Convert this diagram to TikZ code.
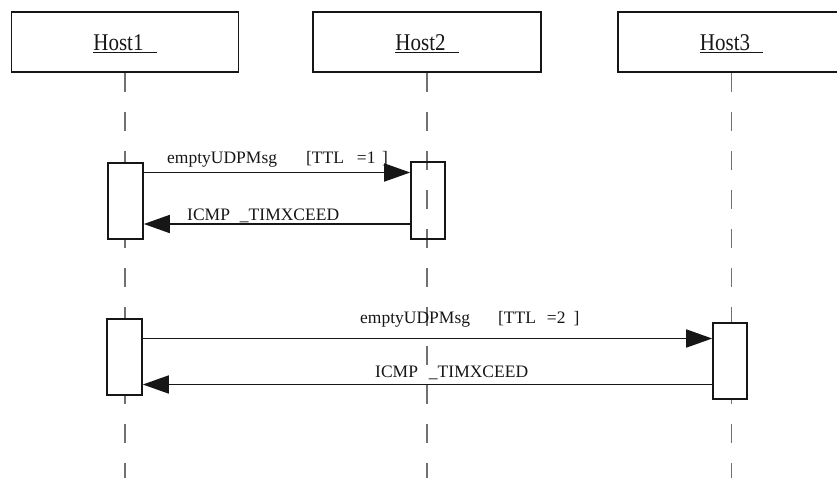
\documentclass[tikz,border=0pt]{standalone}
\usepackage{fontspec}
\setmainfont{Liberation Serif}
\newfontfamily\hostfont[FakeStretch=0.875]{Liberation Serif}
\usetikzlibrary{arrows.meta}
\definecolor{ink}{HTML}{161616}
\definecolor{lifegray}{HTML}{707070}
\begin{document}
\begin{tikzpicture}[x=1pt,y=-1pt,
  hostbox/.style={draw=ink,line width=1.6pt,fill=white,minimum width=227pt,minimum height=60pt,
    inner sep=0pt,text height=17pt,text depth=0pt,font=\hostfont\fontsize{24}{28}\selectfont,text=ink},
  actbox/.style={draw=ink,line width=1.6pt,minimum width=35pt,minimum height=76pt,inner sep=0pt},
  lifeline/.style={draw=lifegray,line width=1.2pt,dash pattern=on 19pt off 20pt},
  msg/.style={draw=ink,line width=1.7pt,-{Triangle[length=26pt,width=18pt]}},
  msgtext/.style={anchor=base west,inner sep=0pt,font=\fontsize{17.5}{21}\selectfont,text=ink}]
\useasboundingbox (0,0) rectangle (837,477);
% host boxes
\node[hostbox] (h1) at (125,42) {\underline{Host1\hspace{13pt}}};
\node[hostbox,minimum width=228pt] (h2) at (427,42) {\underline{Host2\hspace{13pt}}};
\node[hostbox] (h3) at (731.5,42) {\underline{Host3\hspace{13pt}}};
% lifelines
\coordinate (bottom) at (0,481);
\draw[lifeline] (h1.south) -- (h1.south |- bottom);
\draw[lifeline] (h2.south) -- (h2.south |- bottom);
\draw[lifeline] (h3.south) -- (h3.south |- bottom);
% activation boxes
\node[actbox,fill=white] (a1) at (125.5,201) {};
\node[actbox,minimum width=34pt,minimum height=77pt] (b1) at (428,200.5) {};
\node[actbox,fill=white] (a2) at (124.5,357) {};
\node[actbox,fill=white,minimum width=34pt] (c2) at (730,361) {};
% message levels
\coordinate (m1) at (0,172.5);
\coordinate (m2) at (0,224);
\coordinate (m3) at (0,338.5);
\coordinate (m4) at (0,384.5);
% messages
\draw[msg] (a1.east |- m1) -- (b1.west |- m1);
\draw[msg] (b1.west |- m2) -- (a1.east |- m2);
\draw[msg] (a2.east |- m3) -- (c2.west |- m3);
\draw[msg] (c2.west |- m4) -- (a2.east |- m4);
% labels
\node[msgtext] (t1) at (167,163) {emptyUDPMsg\hspace{29pt}[TTL\hspace{13pt}=1\hspace{6.5pt}]};
\node[msgtext] (t2) at (187,220) {ICMP\hspace{10pt}\_TIMXCEED};
\node[msgtext] (t3) at (360,323) {emptyUDPMsg\hspace{28pt}[TTL\hspace{11pt}=2\hspace{8pt}]};
\node[msgtext] (t4) at (375,377) {ICMP\hspace{11pt}\_TIMXCEED};
\end{tikzpicture}
\end{document}
